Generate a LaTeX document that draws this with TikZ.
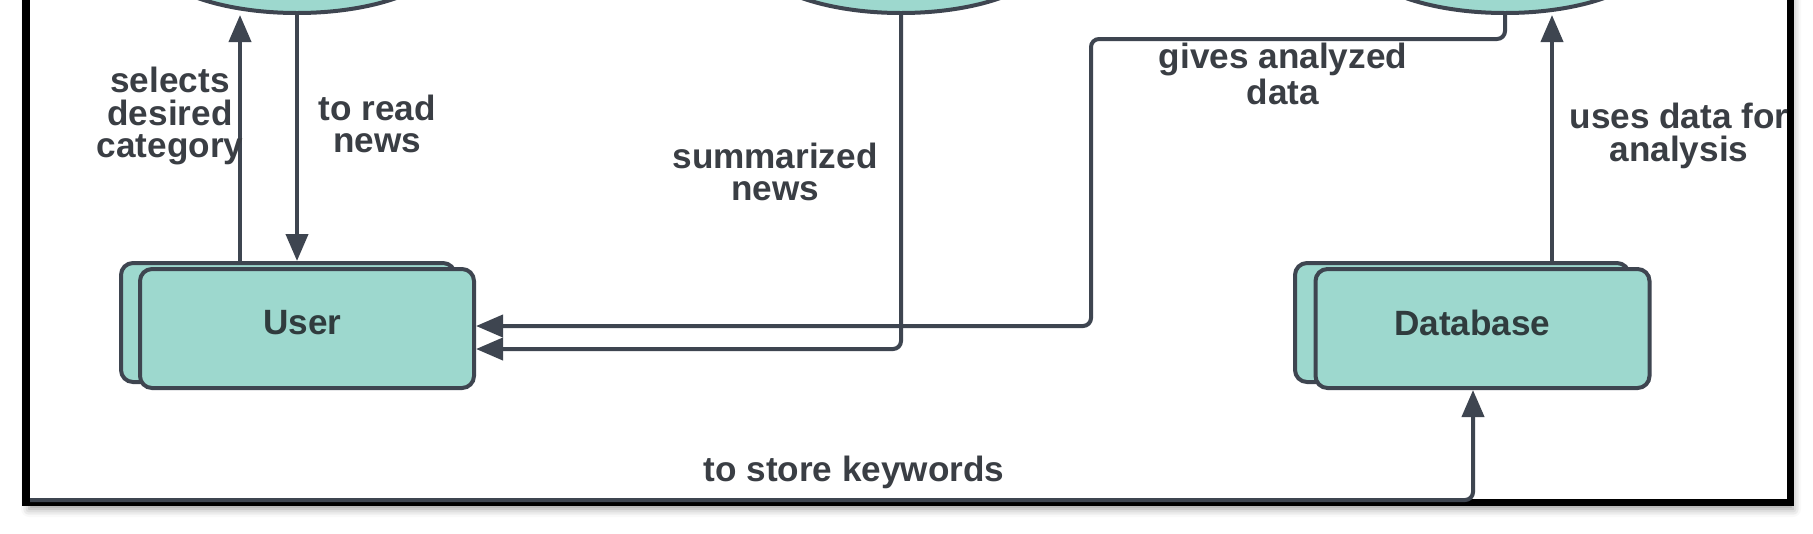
\documentclass[tikz,border=0pt]{standalone}
\usepackage{fontspec}
\setmainfont{Liberation Sans}
\usetikzlibrary{arrows.meta,shapes.geometric,shadows.blur,calc}
\definecolor{linegray}{HTML}{3E4550}
\definecolor{boxfill}{HTML}{9DD8CE}
\definecolor{txtgray}{HTML}{3A3E44}
\definecolor{boxtxt}{HTML}{303C3E}

\begin{document}
\begin{tikzpicture}[
    entity/.style={draw=linegray, fill=boxfill, line width=0.04cm, rounded corners=0.12cm,
      minimum width=3.34cm, minimum height=1.19cm},
    process/.style={ellipse, draw=linegray, fill=boxfill, line width=0.04cm,
      minimum width=3cm, minimum height=1.2cm},
    flow/.style={draw=linegray, line width=0.04cm, rounded corners=0.08cm},
    tip/.style={-{Triangle[length=0.27cm,width=0.22cm]}},
    lbl/.style={text=txtgray, align=center, font=\fontsize{10pt}{9.2pt}\selectfont\bfseries}
  ]
  \useasboundingbox (0,0) rectangle (18.13,5.33);
  \clip (0,0) rectangle (18.13,5.33);
  \draw[black, line width=0.07cm, fill=white,
    blur shadow={shadow xshift=0.03cm, shadow yshift=-0.07cm, shadow blur radius=0.08cm}]
    (0.26,0.31) rectangle (17.90,6.5);

  \node[process] (pnews) at (2.97,5.80) {};
  \node[process] (psumm) at (9.01,5.80) {};
  \node[process] (pana) at (15.05,5.80) {};

  \node[entity] (userback) at (2.88,2.105) {};
  \node[entity] (user) at (3.07,2.045) {};
  \node[entity] (dbback) at (14.62,2.105) {};
  \node[entity] (db) at (14.825,2.045) {};
  \node[lbl, text=boxtxt] (usertxt) at ($(userback.north west)!0.5!(user.south east)+(0.05,0.03)$) {User};
  \node[lbl, text=boxtxt] (dbtxt) at ($(dbback.north west)!0.5!(db.south east)+(0,0.03)$) {Database};

  \coordinate (xsel) at (2.40,0);
  \coordinate (xuse) at (15.52,0);
  \coordinate (xkw) at (14.73,0);
  \coordinate (bend) at (10.91,4.94);
  \coordinate (kwsrc) at (0.30,0.33);

  \draw[flow,tip] (userback.north -| xsel) -- (pnews.south -| xsel);
  \draw[flow,tip] (pnews.south) -- (userback.north -| pnews.south);
  \draw[flow,tip] (psumm.south) |- ([yshift=-0.205cm]user.east);
  \draw[flow,tip] (pana.south) |- (bend) |- ([yshift=0.025cm]user.east);
  \draw[flow,tip] (dbback.north -| xuse) -- (pana.south -| xuse);
  \draw[flow,tip] (kwsrc) -| (db.south -| xkw);

  \node[lbl] (lblsel) at (1.70,4.17) {selects\\desired\\category};
  \node[lbl] (lblread) at (3.77,4.09) {to read\\news};
  \node[lbl] (lblsumm) at (7.75,3.61) {summarized\\news};
  \node[lbl] (lblgive) at (12.83,4.59) {gives analyzed\\data};
  \node[lbl] (lbluse) at (16.79,3.97) {uses data for\\analysis};
  \node[lbl] (lblstore) at (8.54,0.61) {to store keywords};
\end{tikzpicture}
\end{document}
